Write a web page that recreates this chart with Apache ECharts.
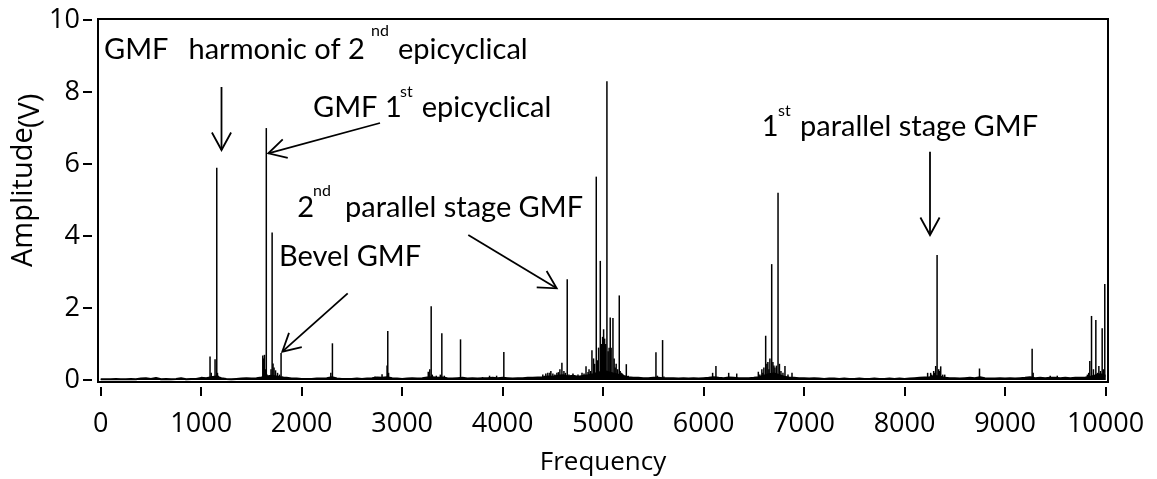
<!DOCTYPE html>
<html><head><meta charset="utf-8">
<script src="https://cdn.jsdelivr.net/npm/echarts@6/dist/echarts.min.js"></script>
<style>html,body{margin:0;padding:0;background:#fff}#c{width:1157px;height:479px}</style>
</head><body><div id="c"></div>
<script>
// ---------- data ----------
const xTicks = [0,1000,2000,3000,4000,5000,6000,7000,8000,9000,10000];
const yTicks = [0,2,4,6,8,10];
// noise floor, one value per 50 Hz bin from 0 to 10000 Hz
const floorStepHz = 50;
const floorAmp = [
  0.02,0.02,0.02,0.03,0.02,0.02,0.03,0.02,0.04,0.05,
  0.03,0.06,0.02,0.03,0.02,0.03,0.05,0.02,0.03,0.03,
  0.06,0.05,0.08,0.10,0.05,0.03,0.02,0.03,0.04,0.05,
  0.04,0.05,0.07,0.10,0.12,0.10,0.07,0.06,0.04,0.04,
  0.03,0.03,0.03,0.04,0.04,0.05,0.08,0.04,0.03,0.03,
  0.03,0.04,0.03,0.04,0.05,0.07,0.06,0.08,0.05,0.04,
  0.03,0.04,0.05,0.04,0.05,0.07,0.08,0.06,0.07,0.05,
  0.04,0.05,0.06,0.04,0.05,0.04,0.05,0.05,0.06,0.05,
  0.06,0.05,0.04,0.05,0.05,0.06,0.06,0.07,0.08,0.10,
  0.09,0.12,0.13,0.10,0.12,0.09,0.11,0.13,0.16,0.20,
  0.25,0.22,0.18,0.15,0.11,0.08,0.06,0.06,0.05,0.05,
  0.06,0.06,0.05,0.05,0.05,0.04,0.05,0.04,0.05,0.04,
  0.05,0.06,0.08,0.06,0.05,0.07,0.06,0.05,0.05,0.05,
  0.06,0.08,0.12,0.16,0.18,0.14,0.09,0.07,0.06,0.05,
  0.05,0.04,0.05,0.04,0.03,0.04,0.04,0.03,0.04,0.03,
  0.03,0.04,0.03,0.03,0.04,0.03,0.03,0.04,0.03,0.04,
  0.03,0.04,0.05,0.06,0.07,0.08,0.11,0.10,0.06,0.05,
  0.05,0.04,0.05,0.06,0.05,0.08,0.05,0.04,0.04,0.05,
  0.04,0.05,0.04,0.05,0.06,0.08,0.05,0.06,0.05,0.06,
  0.06,0.05,0.06,0.05,0.06,0.06,0.07,0.09,0.13,0.16,
  0.12
];
// main spectral lines
const peakFreq = [
  1088,1100,1138,1155,1162,1170,
  1613,1622,1630,1638,1648,1655,1695,1706,1715,1725,1740,1760,1780,1795,1810,
  2290,2306,2730,2800,2850,2857,2865,
  3260,3275,3289,3300,3340,3380,3395,3420,3581,3800,3870,3940,4012,
  4400,4430,4470,4500,4540,4570,4590,4610,4643,4660,4700,4750,4790,4830,4860,4875,4889,
  4905,4915,4932,4945,4955,4972,4985,4995,5005,5015,5025,5038,5050,5060,5071,5080,5098,
  5110,5130,5145,5161,5180,5200,5231,5250,5526,5540,5592,5605,
  6090,6123,6250,6330,6545,6580,6600,6618,6640,6660,6678,6690,6710,6725,6741,6755,6810,6880,
  8230,8260,8290,8310,8324,8340,8360,8400,8746,9270,9280,9450,9520,
  9820,9833,9844,9861,9880,9904,9920,9934,9950,9967,9980,9993
];
const peakAmp = [
  0.65,0.20,0.58,5.90,0.20,0.12,
  0.68,0.60,0.70,0.30,7.00,0.15,0.30,4.10,0.46,0.35,0.27,0.20,0.15,0.75,0.10,
  0.20,1.02,0.10,0.16,0.40,1.36,0.20,
  0.23,0.30,2.05,0.15,0.12,0.15,1.30,0.12,1.13,0.08,0.12,0.12,0.78,
  0.15,0.18,0.20,0.18,0.20,0.30,0.48,0.25,2.80,0.15,0.18,0.15,0.20,0.38,0.30,0.25,0.83,
  0.60,0.45,5.65,0.55,0.90,3.31,1.00,1.20,1.41,1.15,1.00,8.30,0.80,0.90,1.74,0.90,1.72,
  0.60,0.45,0.30,2.35,0.20,0.15,0.44,0.12,0.77,0.12,1.11,0.10,
  0.20,0.39,0.20,0.18,0.23,0.30,0.35,1.23,0.50,0.60,3.22,0.50,0.35,0.40,5.20,0.45,0.39,0.20,
  0.20,0.20,0.25,0.39,3.47,0.30,0.38,0.15,0.32,0.87,0.20,0.12,0.12,
  0.15,0.20,0.53,1.78,0.30,1.67,0.20,0.39,0.25,1.44,0.30,2.67
];
// small lines in the dense clusters
const minorFreq = [4420,4450,4480,4520,4555,4625,4680,4720,4810,4850,5120,5170,5190,5215,
  6560,6590,6630,6650,6700,6770,6790,6840,8270,8300,8350,8380];
const minorAmp  = [0.12,0.20,0.25,0.15,0.22,0.20,0.12,0.10,0.18,0.22,0.35,0.25,0.18,0.12,
  0.15,0.20,0.45,0.30,0.40,0.25,0.20,0.15,0.15,0.20,0.25,0.15];

// ---------- chart ----------
const chart = echarts.init(document.getElementById('c'), null, {renderer:'canvas'});
const axisFont = 'Open Sans';
const noteFont = 'Lato';

const floorData = floorAmp.map((v,i)=>[i*floorStepHz, v]);
const peakData = peakFreq.map((f,i)=>[f, peakAmp[i]]).concat(minorFreq.map((f,i)=>[f, minorAmp[i]]));

function arrow(x1,y1,x2,y2){
  const ang = Math.atan2(y2-y1, x2-x1), L = 20, a = 0.5;
  const p1 = [x2 - L*Math.cos(ang-a), y2 - L*Math.sin(ang-a)];
  const p2 = [x2 - L*Math.cos(ang+a), y2 - L*Math.sin(ang+a)];
  return [
    {type:'line', shape:{x1,y1,x2,y2}, style:{stroke:'#000', lineWidth:1.8}, z:10},
    {type:'polyline', shape:{points:[p1,[x2,y2],p2]}, style:{stroke:'#000', lineWidth:1.8, fill:null}, z:10}
  ];
}
function txt(x, baseY, s, size){
  return {type:'text', x:x, y:baseY - 0.36*size, z:10,
    style:{text:s, font: size+'px '+noteFont, fill:'#000', verticalAlign:'middle', align:'left'}};
}
function vtxt(x, yStart, s, size){
  return {type:'text', x:x, y:yStart, rotation:Math.PI/2, z:10,
    style:{text:s, font: size+'px '+axisFont, fill:'#000', verticalAlign:'middle', align:'left'}};
}
const big = 29, sup = 16;
const graphics = [
  txt(104,60,'GMF',big), txt(188.5,60,'harmonic of 2',big), txt(371,37,'nd',sup), txt(398,60,'epicyclical',big),
  txt(313,118.3,'GMF 1',big), txt(400,98,'st',sup), txt(421.7,118.3,'epicyclical',big),
  txt(297.3,218,'2',big), txt(313,197,'nd',sup), txt(345,218,'parallel stage GMF',big),
  txt(279,266.7,'Bevel GMF',big),
  txt(761.7,136.7,'1',big), txt(778,116.7,'st',sup), txt(800,136.7,'parallel stage GMF',big),
  ...arrow(221.5,87,221.5,150),
  ...arrow(380,123,268.3,153.3),
  ...arrow(347.7,293.3,282.3,351.7),
  ...arrow(468.3,235,556.7,288.3),
  ...arrow(930,151.7,930,235),
  // y-axis title, unit slightly lowered as in the figure
  vtxt(24,267,'Amplitude',29),
  vtxt(31,128,'(V)',29)
];

const tickStyle = {show:true, length:9, lineStyle:{color:'#000', width:2}};
chart.setOption({
  animation:false,
  backgroundColor:'#fff',
  grid:{left:98, right:49, top:19, bottom:97, containLabel:false, outerBoundsMode:'none',
        show:true, borderColor:'#000', borderWidth:2, backgroundColor:'transparent'},
  xAxis:{
    type:'value', min:-27, max:10025, offset:5,
    axisLine:{show:true, onZero:false, lineStyle:{color:'#000', opacity:0}},
    axisTick:Object.assign({customValues:xTicks}, tickStyle),
    axisLabel:{customValues:xTicks, formatter:v=>String(v), color:'#000', fontSize:27, fontFamily:axisFont, margin:24},
    splitLine:{show:false},
    name:'Frequency', nameLocation:'middle', nameGap:63,
    nameTextStyle:{color:'#000', fontSize:26, fontFamily:axisFont}
  },
  yAxis:{
    type:'value', min:-0.055, max:10.03, offset:6,
    axisLine:{show:true, onZero:false, lineStyle:{color:'#000', opacity:0}},
    axisTick:Object.assign({customValues:yTicks}, tickStyle),
    axisLabel:{customValues:yTicks, formatter:v=>String(v), color:'#000', fontSize:27, fontFamily:axisFont, margin:12},
    splitLine:{show:false}
  },
  series:[
    {type:'line', data:floorData, showSymbol:false, silent:true,
     lineStyle:{color:'#000', width:2}, areaStyle:{color:'#000', opacity:1}},
    {type:'bar', data:peakData, barWidth:1.5, silent:true, itemStyle:{color:'#000'}}
  ],
  graphic:graphics
});
</script></body></html>
